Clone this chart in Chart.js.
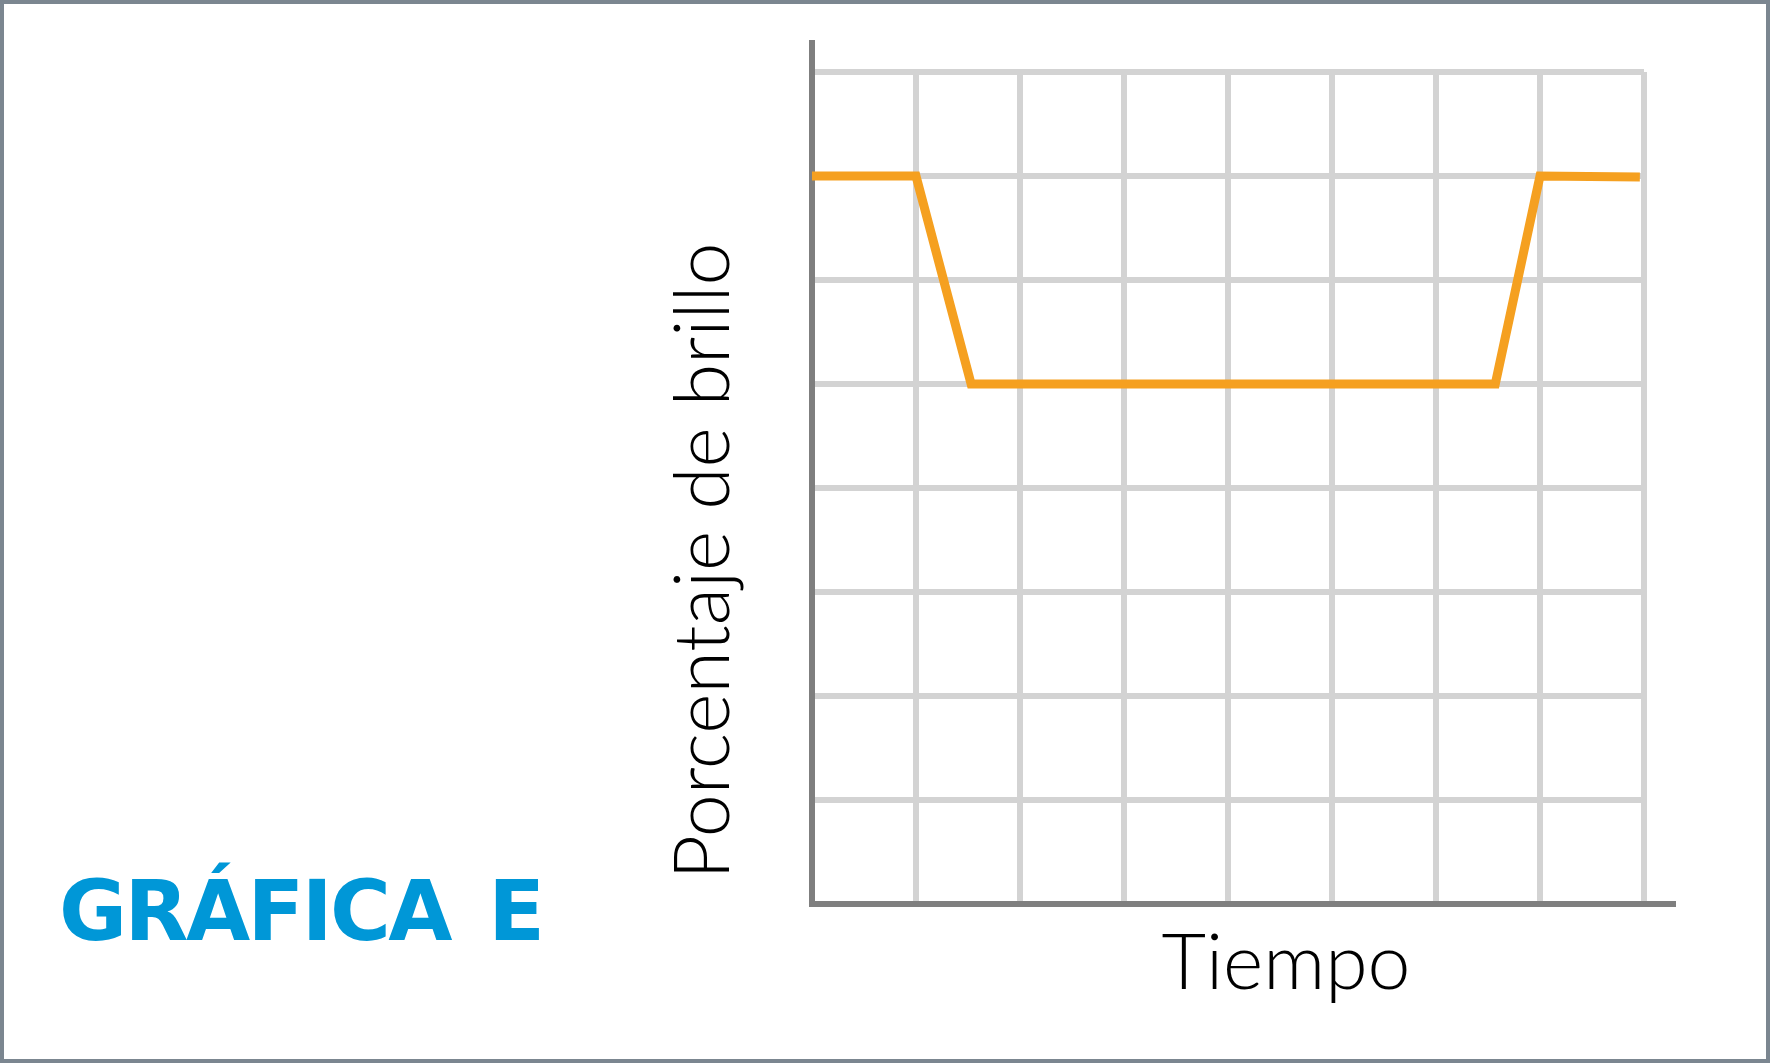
<!DOCTYPE html>
<html>
<head>
<meta charset="utf-8">
<script src="https://cdn.jsdelivr.net/npm/chart.js@4/dist/chart.umd.min.js"></script>
<style>
  html, body { margin: 0; padding: 0; background: #ffffff; }
  #wrap { position: relative; width: 1770px; height: 1063px; }
</style>
</head>
<body>
<div id="wrap"><canvas id="myChart" width="1770" height="1063"></canvas></div>
<script>
// values (grid units, 8 x 8 squares)
var tiempo = [0, 1, 1.53, 6.57, 7, 7.96];
var brillo = [7, 7, 5, 5, 7, 6.99];
var gridMax = 8;

var titulo = 'GRÁFICA E';
var tituloX = 'Tiempo';
var tituloY = 'Porcentaje de brillo';

var chartjs = (function(){
    var ctx = document.getElementById('myChart').getContext('2d');

    function buildPoints(xs, ys) {
        var pts = [];
        for (var i = 0; i < xs.length; i++) {
            pts.push({x: xs[i], y: ys[i]});
        }
        return pts;
    }

    // frame, long axes and text, drawn around the chart.js grid
    var decor = {
        id: 'decor',
        beforeDraw: function(chart) {
            var c = chart.ctx;
            c.save();
            c.fillStyle = '#ffffff';
            c.fillRect(0, 0, chart.width, chart.height);
            c.restore();
        },
        beforeDatasetsDraw: function(chart) {
            var c = chart.ctx;
            var xs = chart.scales.x, ys = chart.scales.y;
            var x0 = xs.getPixelForValue(0), y0 = ys.getPixelForValue(0);
            c.save();
            c.strokeStyle = '#7f7f7f';
            c.lineWidth = 6;
            c.lineCap = 'butt';
            c.beginPath();
            c.moveTo(x0, ys.getPixelForValue(gridMax) - 32);
            c.lineTo(x0, y0 + 3);
            c.moveTo(x0 - 3, y0);
            c.lineTo(xs.getPixelForValue(gridMax) + 32, y0);
            c.stroke();
            c.restore();
        },
        afterDraw: function(chart) {
            var c = chart.ctx;
            c.save();
            // frame
            c.strokeStyle = '#7b8690';
            c.lineWidth = 4;
            c.strokeRect(2, 2, chart.width - 4, chart.height - 4);

            // axis titles
            c.fillStyle = '#000000';
            c.font = '300 77px Lato';
            c.textAlign = 'center';
            c.textBaseline = 'alphabetic';
            c.fillText(tituloX, 1286, 989);

            c.translate(729, 561);
            c.rotate(-Math.PI / 2);
            c.fillText(tituloY, 0, 0);
            c.setTransform(1, 0, 0, 1, 0, 0);

            // big blue label, fitted to the width in the picture
            c.font = 'bold 83px "DejaVu Sans"';
            c.fillStyle = '#0097d7';
            c.textAlign = 'left';
            var w = c.measureText(titulo).width;
            var n = titulo.length;
            c.wordSpacing = '12px';
            c.letterSpacing = ((486 - w - 12) / (n - 1)).toFixed(2) + 'px';
            c.fillText(titulo, 59, 940);
            c.restore();
        }
    };

    function draw() {
        var myChart = new Chart(ctx, {
            type: 'line',
            data: {
                datasets: [{
                    data: buildPoints(tiempo, brillo),
                    borderColor: '#f5a020',
                    borderWidth: 9,
                    borderJoinStyle: 'miter',
                    borderCapStyle: 'butt',
                    pointRadius: 0,
                    tension: 0,
                    fill: false,
                    clip: false
                }]
            },
            options: {
                responsive: false,
                animation: false,
                devicePixelRatio: 1,
                layout: {padding: {left: 812, right: 126, top: 72, bottom: 159}},
                plugins: {legend: {display: false}, tooltip: {enabled: false}},
                scales: {
                    x: {
                        type: 'linear', min: 0, max: gridMax,
                        ticks: {display: false, stepSize: 1},
                        grid: {color: '#d3d3d3', lineWidth: 6, drawTicks: false},
                        border: {display: false}
                    },
                    y: {
                        type: 'linear', min: 0, max: gridMax,
                        ticks: {display: false, stepSize: 1},
                        grid: {color: '#d3d3d3', lineWidth: 6, drawTicks: false},
                        border: {display: false}
                    }
                }
            },
            plugins: [decor]
        });
        return myChart;
    }

    return {draw: draw};
})();

chartjs.draw();
</script>
</body>
</html>
